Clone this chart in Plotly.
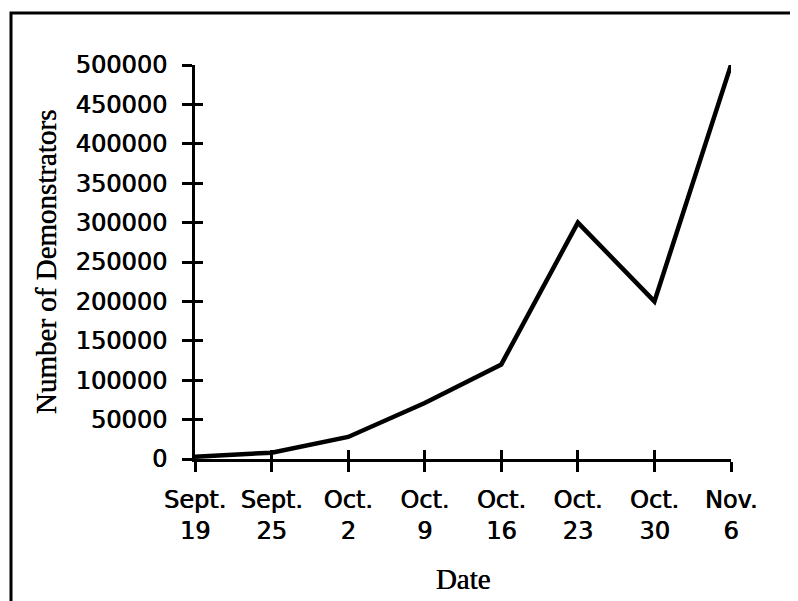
import plotly.graph_objects as go

dates = ["Sept.<br>19", "Sept.<br>25", "Oct.<br>2", "Oct.<br>9",
         "Oct.<br>16", "Oct.<br>23", "Oct.<br>30", "Nov.<br>6"]
demonstrators = [3000, 8000, 28000, 71000, 120000, 300000, 200000, 500000]
y_ticks = [0, 50000, 100000, 150000, 200000, 250000, 300000, 350000, 400000, 450000, 500000]

# the page body adds an 8px offset; positions below compensate for it
OFF = 8
W, H = 798, 601
L, R, T, B = 195 - OFF, 75, 65 - OFF, 150
pw, ph = W - L - R, H - T - B

def px(x):
    return (x - OFF - L) / pw

def py(y):
    return (H - B - (y - OFF)) / ph

tick_font = dict(family="DejaVu Sans", size=24, color="black",
                 shadow="0.7px 0 0 black")
title_font = dict(family="Liberation Serif", size=29, color="black",
                  shadow="0.5px 0 0 black")

fig = go.Figure()
fig.add_trace(go.Scatter(x=dates, y=demonstrators, mode="lines",
                         line=dict(color="black", width=4.5),
                         hoverinfo="skip", showlegend=False, cliponaxis=False))
fig.add_trace(go.Scatter(x=dates, y=demonstrators, mode="lines",
                         line=dict(color="rgba(0,0,0,0)", width=0),
                         xaxis="x2", yaxis="y2",
                         hoverinfo="skip", showlegend=False))

common_axis = dict(showgrid=False, zeroline=False, showline=True,
                   linecolor="black", linewidth=3, tickcolor="black",
                   tickwidth=3)

fig.update_layout(
    width=W, height=H,
    margin=dict(l=L, r=R, t=T, b=B, autoexpand=False),
    paper_bgcolor="white", plot_bgcolor="white",
    xaxis=dict(type="category", categoryorder="array", categoryarray=dates,
               range=[0, len(dates) - 1], ticks="outside", ticklen=10,
               tickfont=tick_font, ticklabelstandoff=7,
               title=dict(text="Date", font=title_font, standoff=25),
               automargin=False, **common_axis),
    yaxis=dict(range=[0, 500000], tickvals=y_ticks,
               ticktext=[str(v) for v in y_ticks],
               ticks="outside", ticklen=10, tickfont=tick_font,
               ticklabelstandoff=10,
               title=dict(text="Number of Demonstrators", font=title_font, standoff=11),
               automargin=False, **common_axis),
    xaxis2=dict(type="category", categoryorder="array", categoryarray=dates,
                range=[0, len(dates) - 1], overlaying="x", anchor="y2",
                ticks="inside", ticklen=9, showticklabels=False,
                side="bottom", **common_axis),
    yaxis2=dict(range=[0, 500000], tickvals=y_ticks, overlaying="y",
                anchor="x2", ticks="inside", ticklen=8,
                showticklabels=False, side="left", **common_axis),
    shapes=[dict(type="rect", xref="paper", yref="paper",
                 x0=px(11), x1=px(815), y0=py(620), y1=py(13),
                 line=dict(color="black", width=3), layer="below")],
)

fig.write_html("out.html")
